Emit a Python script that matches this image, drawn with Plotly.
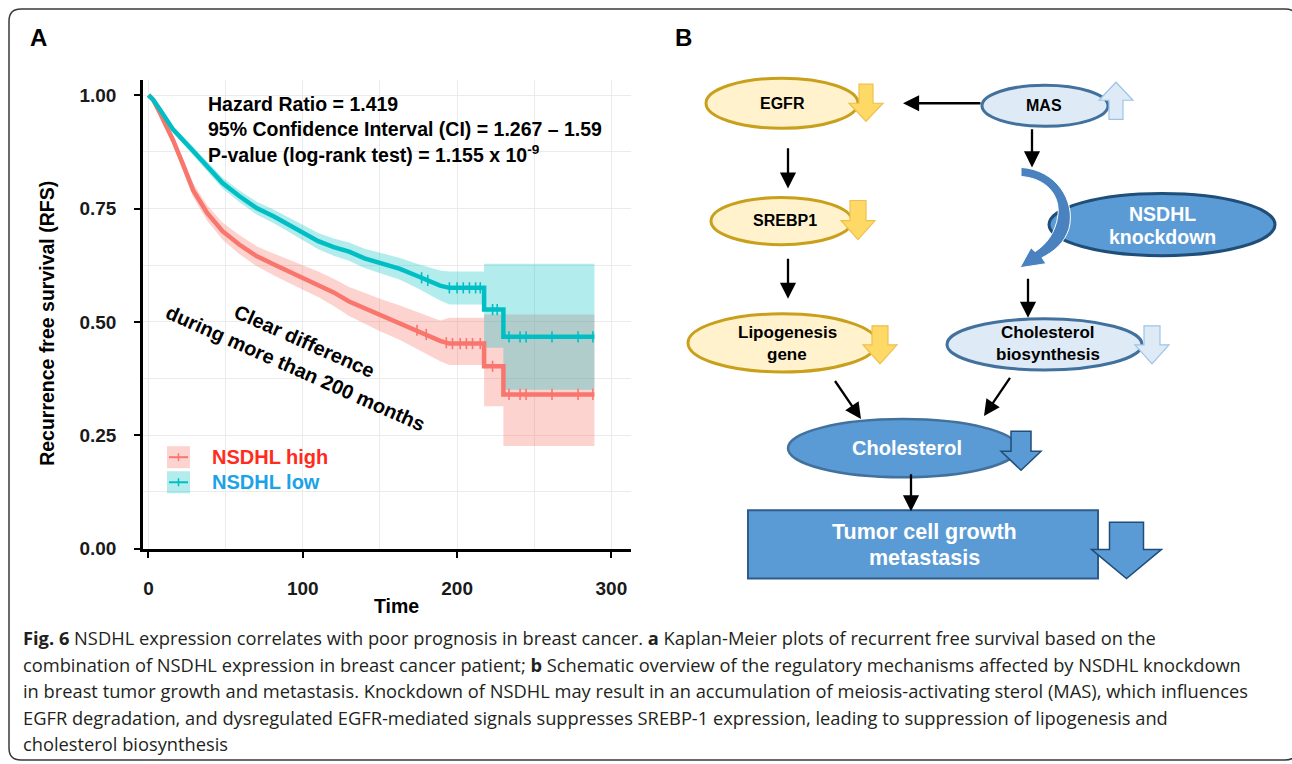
import numpy as np
import plotly.graph_objects as go

# layout is designed on a 1292x764 grid; the figure is drawn a little taller and the
# photo of the page is scaled back to 764 rows
GRID_W, GRID_H = 1292, 764
FW, FH = 1292, 776

# ---------------- data ----------------
time_high = [0, 3, 7.5, 12, 16, 22, 29, 38, 48, 59, 70, 81, 92, 100, 110, 120, 130, 140, 150, 163, 175, 189, 195, 217.5, 217.5, 230, 230, 289]
surv_high = [1.0, 0.99, 0.96, 0.93, 0.90, 0.85, 0.79, 0.74, 0.70, 0.67, 0.645, 0.627, 0.61, 0.598, 0.583, 0.565, 0.545, 0.53, 0.515, 0.498, 0.48, 0.458, 0.452, 0.452, 0.402, 0.402, 0.34, 0.34]
upper_high = [1.0, 0.993, 0.966, 0.938, 0.91, 0.863, 0.805, 0.757, 0.719, 0.691, 0.667, 0.651, 0.636, 0.625, 0.611, 0.595, 0.577, 0.564, 0.551, 0.536, 0.521, 0.503, 0.509, 0.509, 0.516, 0.516, 0.516, 0.516]
lower_high = [1.0, 0.987, 0.954, 0.922, 0.89, 0.837, 0.775, 0.723, 0.681, 0.649, 0.623, 0.603, 0.584, 0.571, 0.555, 0.535, 0.513, 0.496, 0.479, 0.46, 0.439, 0.413, 0.405, 0.405, 0.314, 0.314, 0.226, 0.226]
censor_high = [174, 180, 193, 197, 202, 206, 210, 215, 223, 233.6, 240.8, 244.7, 261.5, 278.4, 288]

time_low = [0, 3, 7.5, 16, 27, 38, 48, 59, 70, 81, 92, 100, 110, 120, 130, 140, 150, 163, 175, 189, 195, 217.5, 217.5, 230, 230, 289]
surv_low = [1.0, 0.99, 0.968, 0.924, 0.884, 0.843, 0.806, 0.777, 0.751, 0.733, 0.712, 0.697, 0.678, 0.665, 0.655, 0.64, 0.63, 0.617, 0.60, 0.58, 0.575, 0.575, 0.527, 0.527, 0.467, 0.467]
upper_low = [1.0, 0.992, 0.972, 0.931, 0.893, 0.854, 0.818, 0.79, 0.765, 0.748, 0.728, 0.714, 0.696, 0.684, 0.675, 0.661, 0.652, 0.641, 0.627, 0.613, 0.611, 0.611, 0.628, 0.628, 0.628, 0.628]
lower_low = [1.0, 0.988, 0.964, 0.917, 0.875, 0.832, 0.794, 0.764, 0.737, 0.718, 0.696, 0.68, 0.66, 0.646, 0.635, 0.619, 0.608, 0.593, 0.573, 0.547, 0.538, 0.538, 0.443, 0.443, 0.35, 0.35]
censor_low = [177, 181, 195, 200, 204, 208, 212, 215, 223, 226, 233.6, 240.8, 244.7, 261.5, 278.4, 288]

x_ticks = [0, 100, 200, 300]
y_ticks = [0.0, 0.25, 0.5, 0.75, 1.0]
y_tick_labels = ["0.00", "0.25", "0.50", "0.75", "1.00"]
group_names = ["NSDHL high", "NSDHL low"]

stats_lines = ["Hazard Ratio = 1.419",
               "95% Confidence Interval (CI) = 1.267 \u2013 1.59",
               "P-value (log-rank test) = 1.155 x 10<sup>-9</sup>"]

caption_lines = [
    "<b>Fig. 6</b> NSDHL expression correlates with poor prognosis in breast cancer. <b>a</b> Kaplan-Meier plots of recurrent free survival based on the",
    "combination of NSDHL expression in breast cancer patient; <b>b</b> Schematic overview of the regulatory mechanisms affected by NSDHL knockdown",
    "in breast tumor growth and metastasis. Knockdown of NSDHL may result in an accumulation of meiosis-activating sterol (MAS), which influences",
    "EGFR degradation, and dysregulated EGFR-mediated signals suppresses SREBP-1 expression, leading to suppression of lipogenesis and",
    "cholesterol biosynthesis",
]

RED = "#F8766D"
TEAL = "#00BFC4"
RED_BAND = "rgba(248,118,109,0.32)"
TEAL_BAND = "rgba(0,191,196,0.30)"
FONT = "Liberation Sans, Arial"


def X(px):
    return px / GRID_W


def Y(py):
    return 1 - py / GRID_H


def curve_value(times, vals, t):
    for i in range(len(times) - 1):
        t0, t1 = times[i], times[i + 1]
        if t1 > t0 and t0 <= t <= t1:
            return vals[i] + (vals[i + 1] - vals[i]) * (t - t0) / (t1 - t0)
    return vals[-1]


fig = go.Figure()

# confidence bands
for times, up, lo, col in [(time_high, upper_high, lower_high, RED_BAND),
                           (time_low, upper_low, lower_low, TEAL_BAND)]:
    fig.add_trace(go.Scatter(x=times, y=lo, mode="lines", line=dict(width=0),
                             showlegend=False, hoverinfo="skip"))
    fig.add_trace(go.Scatter(x=times, y=up, mode="lines", line=dict(width=0),
                             fill="tonexty", fillcolor=col, showlegend=False, hoverinfo="skip"))

# survival curves
for times, s, col in [(time_high, surv_high, RED), (time_low, surv_low, TEAL)]:
    fig.add_trace(go.Scatter(x=times, y=s, mode="lines", line=dict(color=col, width=4.5),
                             showlegend=False))

# censor marks
for times, s, cens, col in [(time_high, surv_high, censor_high, RED),
                            (time_low, surv_low, censor_low, TEAL)]:
    fig.add_trace(go.Scatter(x=cens, y=[curve_value(times, s, t) for t in cens], mode="markers",
                             marker=dict(symbol="line-ns", size=8, line=dict(color=col, width=1.6)),
                             showlegend=False))

GRID = "#EBEBEB"
tickfont = dict(family=FONT, size=19, color="#1a1a1a", weight="bold")
fig.update_xaxes(domain=[X(143), X(631)], range=[-3.56, 312.7], tickvals=x_ticks,
                 showgrid=True, gridcolor=GRID, gridwidth=1,
                 minor=dict(dtick=50, tick0=0, showgrid=True, gridcolor=GRID, gridwidth=1),
                 showline=True, linecolor="black", linewidth=2.5,
                 ticks="outside", ticklen=6, tickwidth=2, tickcolor="black",
                 tickfont=tickfont, ticklabelstandoff=14, zeroline=False)
fig.update_yaxes(domain=[Y(548), Y(80)], range=[-0.002, 1.033], tickvals=y_ticks, ticktext=y_tick_labels,
                 showgrid=True, gridcolor=GRID, gridwidth=1,
                 minor=dict(dtick=0.125, tick0=0, showgrid=True, gridcolor=GRID, gridwidth=1),
                 showline=True, linecolor="black", linewidth=2.5,
                 ticks="outside", ticklen=6, tickwidth=2, tickcolor="black",
                 tickfont=tickfont, ticklabelstandoff=14, zeroline=False)

ann = []
shapes = []


def text(x, y, s, size, color="black", family=FONT, bold=True, xanchor="center", angle=0):
    ann.append(dict(x=X(x), y=Y(y), xref="paper", yref="paper", text=s, showarrow=False,
                    xanchor=xanchor, yanchor="middle", textangle=angle, align="center",
                    font=dict(family=family, size=size, color=color,
                              weight="bold" if bold else "normal")))


def arrow(x0, y0, x1, y1):
    sy = FH / GRID_H
    ann.append(dict(x=X(x1), y=Y(y1), xref="paper", yref="paper", ax=x0 - x1, ay=(y0 - y1) * sy,
                    text="", showarrow=True, arrowhead=2, arrowsize=1.4, arrowwidth=2.3,
                    arrowcolor="black", standoff=0, startstandoff=0))


def path(cmds):
    out = []
    for c in cmds:
        op = c[0]
        if op == "Z":
            out.append("Z")
        else:
            pts = " ".join(f"{X(px):.6f},{Y(py):.6f}" for px, py in c[1:])
            out.append(f"{op} {pts}")
    return " ".join(out)


def poly(points):
    return path([("M", points[0])] + [("L", p) for p in points[1:]] + [("Z",)])


def block_arrow(cx, top, head_y, tip, sw, hw, fill, line, lw=1.2):
    pts = [(cx - sw, top), (cx + sw, top), (cx + sw, head_y), (cx + hw, head_y), (cx, tip),
           (cx - hw, head_y), (cx - sw, head_y)]
    shapes.append(dict(type="path", path=poly(pts), xref="paper", yref="paper",
                       fillcolor=fill, line=dict(color=line, width=lw), layer="above"))


def ellipse(x0, y0, x1, y1, fill, line, lw=3):
    shapes.append(dict(type="circle", x0=X(x0), x1=X(x1), y0=Y(y1), y1=Y(y0), xref="paper",
                       yref="paper", fillcolor=fill, line=dict(color=line, width=lw), layer="above"))


# ---------------- panel A texts ----------------
text(38, 37, "A", 24)
for i, s in enumerate(stats_lines):
    text(206, 104 + 25 * i, s, 19.5, xanchor="left")
text(47, 323, "Recurrence free survival (RFS)", 19.5, angle=-90)
text(396, 604, "Time", 19.5)
text(304, 340, "Clear difference", 20, angle=24)
text(295, 367, "during more than 200 months", 20, angle=24)

# legend
for (ky, col, band, name, tcol) in [(456, RED, RED_BAND, group_names[0], "#FF2B1C"),
                                    (481, TEAL, TEAL_BAND, group_names[1], "#1AA3E6")]:
    shapes.append(dict(type="rect", x0=X(167), x1=X(190), y0=Y(ky + 11), y1=Y(ky - 11),
                       xref="paper", yref="paper", fillcolor=band, line=dict(width=0), layer="above"))
    shapes.append(dict(type="line", x0=X(169), x1=X(188), y0=Y(ky), y1=Y(ky), xref="paper",
                       yref="paper", line=dict(color=col, width=2), layer="above"))
    shapes.append(dict(type="line", x0=X(178.5), x1=X(178.5), y0=Y(ky - 4), y1=Y(ky + 4), xref="paper",
                       yref="paper", line=dict(color=col, width=1.5), layer="above"))
    text(210, ky, name, 20, color=tcol, xanchor="left")

# ---------------- panel B diagram ----------------
text(683, 37, "B", 24)
YEL_FILL, YEL_LINE = "#FFF2CC", "#C9A01C"
YA_FILL, YA_LINE = "#FFD966", "#EEC04E"
LB_FILL, LB_LINE = "#DEEBF7", "#9DC3E6"
BL_FILL = "#5B9BD5"

ellipse(706, 78, 858, 128, YEL_FILL, YEL_LINE)
block_arrow(866, 84, 103, 121, 7, 17, YA_FILL, YA_LINE)
text(782, 103, "EGFR", 16)

ellipse(982, 85, 1108, 126, LB_FILL, "#41719C")
block_arrow(1116, 119, 100, 82, 7, 17, LB_FILL, LB_LINE)
text(1044, 105, "MAS", 16)
arrow(982, 103, 903, 103)
arrow(1032, 128, 1032, 167)

ellipse(1049, 193, 1275, 255, BL_FILL, "#1F4E79", lw=3)
text(1162, 213, "NSDHL", 19.5, color="white")
text(1162, 236, "knockdown", 19.5, color="white")

curve = path([("M", (1021, 167)), ("C", (1056, 169), (1076, 200), (1069, 228)),
              ("C", (1064, 243), (1054, 251), (1042, 257)), ("L", (1046, 263)), ("L", (1020, 267)),
              ("L", (1031, 247)), ("L", (1035, 251)),
              ("C", (1046, 244), (1056, 232), (1058, 214)), ("C", (1060, 195), (1047, 178), (1021, 176)),
              ("Z",)])
shapes.append(dict(type="path", path=curve, xref="paper", yref="paper", fillcolor="#4A82C0",
                   line=dict(color="white", width=1), layer="above"))

arrow(788, 147, 788, 188)
ellipse(711, 197, 852, 244, YEL_FILL, YEL_LINE)
block_arrow(858, 200, 220, 239, 8, 17, YA_FILL, YA_LINE)
text(785, 220, "SREBP1", 16)

arrow(788, 257, 788, 298)
arrow(1028, 277, 1028, 317)

ellipse(688, 313, 877, 371, YEL_FILL, YEL_LINE)
block_arrow(880, 325, 344, 363, 8, 17, YA_FILL, YA_LINE)
text(787, 332, "Lipogenesis", 17)
text(787, 354, "gene", 17)

ellipse(947, 318, 1142, 369, LB_FILL, "#41719C")
block_arrow(1152, 325, 344, 363, 8, 17, LB_FILL, LB_LINE)
text(1048, 332, "Cholesterol", 17)
text(1048, 354, "biosynthesis", 17)

arrow(834, 379, 861, 418)
arrow(1011, 376, 984, 415)

ellipse(788, 418, 1018, 476, BL_FILL, "#41719C", lw=2.5)
block_arrow(1021, 430, 450, 469, 10, 20, BL_FILL, "#1F4E79", lw=1.5)
text(907, 447, "Cholesterol", 20, color="white")

arrow(911, 472, 911, 510)

shapes.append(dict(type="rect", x0=X(748), x1=X(1098), y0=Y(577), y1=Y(509), xref="paper", yref="paper",
                   fillcolor=BL_FILL, line=dict(color="#2E5C8A", width=2), layer="above"))
block_arrow(1126.5, 521, 548, 577, 17, 35, BL_FILL, "#1F4E79", lw=1.5)
text(924, 531, "Tumor cell growth", 21.5, color="white")
text(924, 557, "metastasis", 21.5, color="white")

# ---------------- caption & frame ----------------
for i, line in enumerate(caption_lines):
    ann.append(dict(x=X(21), y=Y(636 + 26.5 * i), xref="paper", yref="paper", text=line,
                    showarrow=False, xanchor="left", yanchor="middle", align="left",
                    font=dict(family="Open Sans, Noto Sans", size=18.3, color="#231F20")))

frame = path([("M", (21, 9)), ("L", (1285, 9)), ("Q", (1298, 9), (1298, 22)), ("L", (1298, 745)),
              ("Q", (1298, 758), (1285, 758)), ("L", (21, 758)), ("Q", (9, 758), (9, 746)),
              ("L", (9, 21)), ("Q", (9, 9), (21, 9)), ("Z",)])
shapes.append(dict(type="path", path=frame, xref="paper", yref="paper", line=dict(color="#3a3a3a", width=1.5),
                   fillcolor="rgba(0,0,0,0)", layer="above"))

fig.update_layout(width=FW, height=FH, margin=dict(l=0, r=0, t=0, b=0),
                  paper_bgcolor="white", plot_bgcolor="white", showlegend=False,
                  annotations=ann, shapes=shapes)

fig.write_html("out.html", config={"displayModeBar": False},
               post_script="document.body.style.margin='0';document.body.style.overflow='hidden';"
                           "document.documentElement.style.overflow='hidden';")
